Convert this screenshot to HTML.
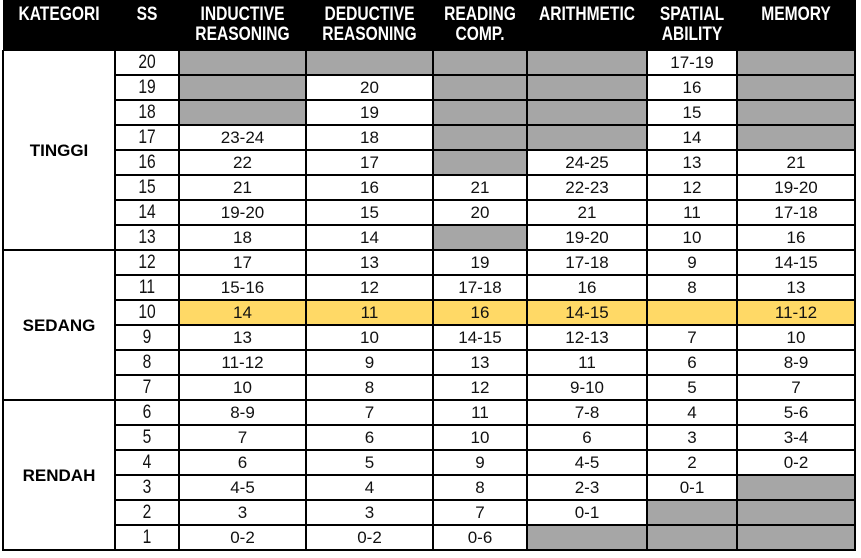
<!DOCTYPE html>
<html><head><meta charset="utf-8"><style>
body{margin:0;width:861px;height:558px;background:#fff;position:relative;overflow:hidden;font-family:"Liberation Sans",sans-serif}
.c{position:absolute;box-sizing:border-box;text-align:center;font-size:17px;color:#111;line-height:25px}
.h{position:absolute;color:#fff;font-weight:bold;font-size:19px;line-height:20px;text-align:center;transform:scaleX(0.82);transform-origin:center top;white-space:nowrap}
.ln{position:absolute;background:#000}
.cat{position:absolute;font-weight:bold;font-size:17px;width:112px;text-align:center;left:3px}
</style></head><body>
<div style="position:absolute;left:3px;top:0;width:853px;height:50px;background:#000"></div>
<div class="cat" style="top:141px">TINGGI</div>
<div class="cat" style="top:316px">SEDANG</div>
<div class="cat" style="top:466px">RENDAH</div>
<script>
const headers=["KATEGORI","SS","INDUCTIVE<br>REASONING","DEDUCTIVE<br>REASONING","READING<br>COMP.","ARITHMETIC","SPATIAL<br>ABILITY","MEMORY"];
const cols=[3,115,179,306,433,527,647,737,855];
const ssValues=[20,19,18,17,16,15,14,13,12,11,10,9,8,7,6,5,4,3,2,1];
const inductive=["-","-","-","23-24","22","21","19-20","18","17","15-16","14","13","11-12","10","8-9","7","6","4-5","3","0-2"];
const deductive=["-","20","19","18","17","16","15","14","13","12","11","10","9","8","7","6","5","4","3","0-2"];
const reading=["-","-","-","-","-","21","20","-","19","17-18","16","14-15","13","12","11","10","9","8","7","0-6"];
const arithmetic=["-","-","-","-","24-25","22-23","21","19-20","17-18","16","14-15","12-13","11","9-10","7-8","6","4-5","2-3","0-1","-"];
const spatial=["17-19","16","15","14","13","12","11","10","9","8","","7","6","5","4","3","2","0-1","-","-"];
const memory=["-","-","-","-","21","19-20","17-18","16","14-15","13","11-12","10","8-9","7","5-6","3-4","0-2","-","-","-"];
const series=[inductive,deductive,reading,arithmetic,spatial,memory];
const top0=50,rh=25;
const b=document.body;
function add(el){b.appendChild(el);return el;}
headers.forEach((h,i)=>{
  const d=document.createElement('div');d.className='h';
  
  
  d.style.left=cols[i]+'px';d.style.width=(cols[i+1]-cols[i])+'px';d.style.top='5px';
  d.innerHTML=h;add(d);
});
ssValues.forEach((ss,r)=>{
  const y=top0+r*rh;
  const s=document.createElement('div');s.className='c';
  
  
  s.style.cssText+=`left:${cols[1]}px;width:${cols[2]-cols[1]}px;top:${y}px;height:${rh}px;font-size:19px;line-height:25px;`;
  s.style.transform='scaleX(0.82)';
  s.textContent=ss;add(s);
  series.forEach((arr,j)=>{
    const v=arr[r];const c=document.createElement('div');c.className='c';
    
    
    let bg=v==='-'?'#a6a6a6':(ss===10?'#ffd966':'#fff');
    c.style.cssText+=`left:${cols[j+2]}px;width:${cols[j+3]-cols[j+2]}px;top:${y}px;height:${rh}px;background:${bg};`;
    c.textContent=v==='-'?'':v;add(c);
  });
});
function line(x,y,w,h){const l=document.createElement('div');l.className='ln';


l.style.cssText+=`left:${x}px;top:${y}px;width:${w}px;height:${h}px`;add(l);}
const bottom=top0+ssValues.length*rh;
cols.forEach(x=>line(x-1,top0,1.5,bottom-top0+1));
for(let r=0;r<=ssValues.length;r++){
  const y=top0+r*rh;
  const full=(r===0||r===8||r===14||r===20);
  line(full?cols[0]:cols[1],y-1,(full?cols[8]-cols[0]:cols[8]-cols[1]),1.5);
}
</script>
</body></html>
